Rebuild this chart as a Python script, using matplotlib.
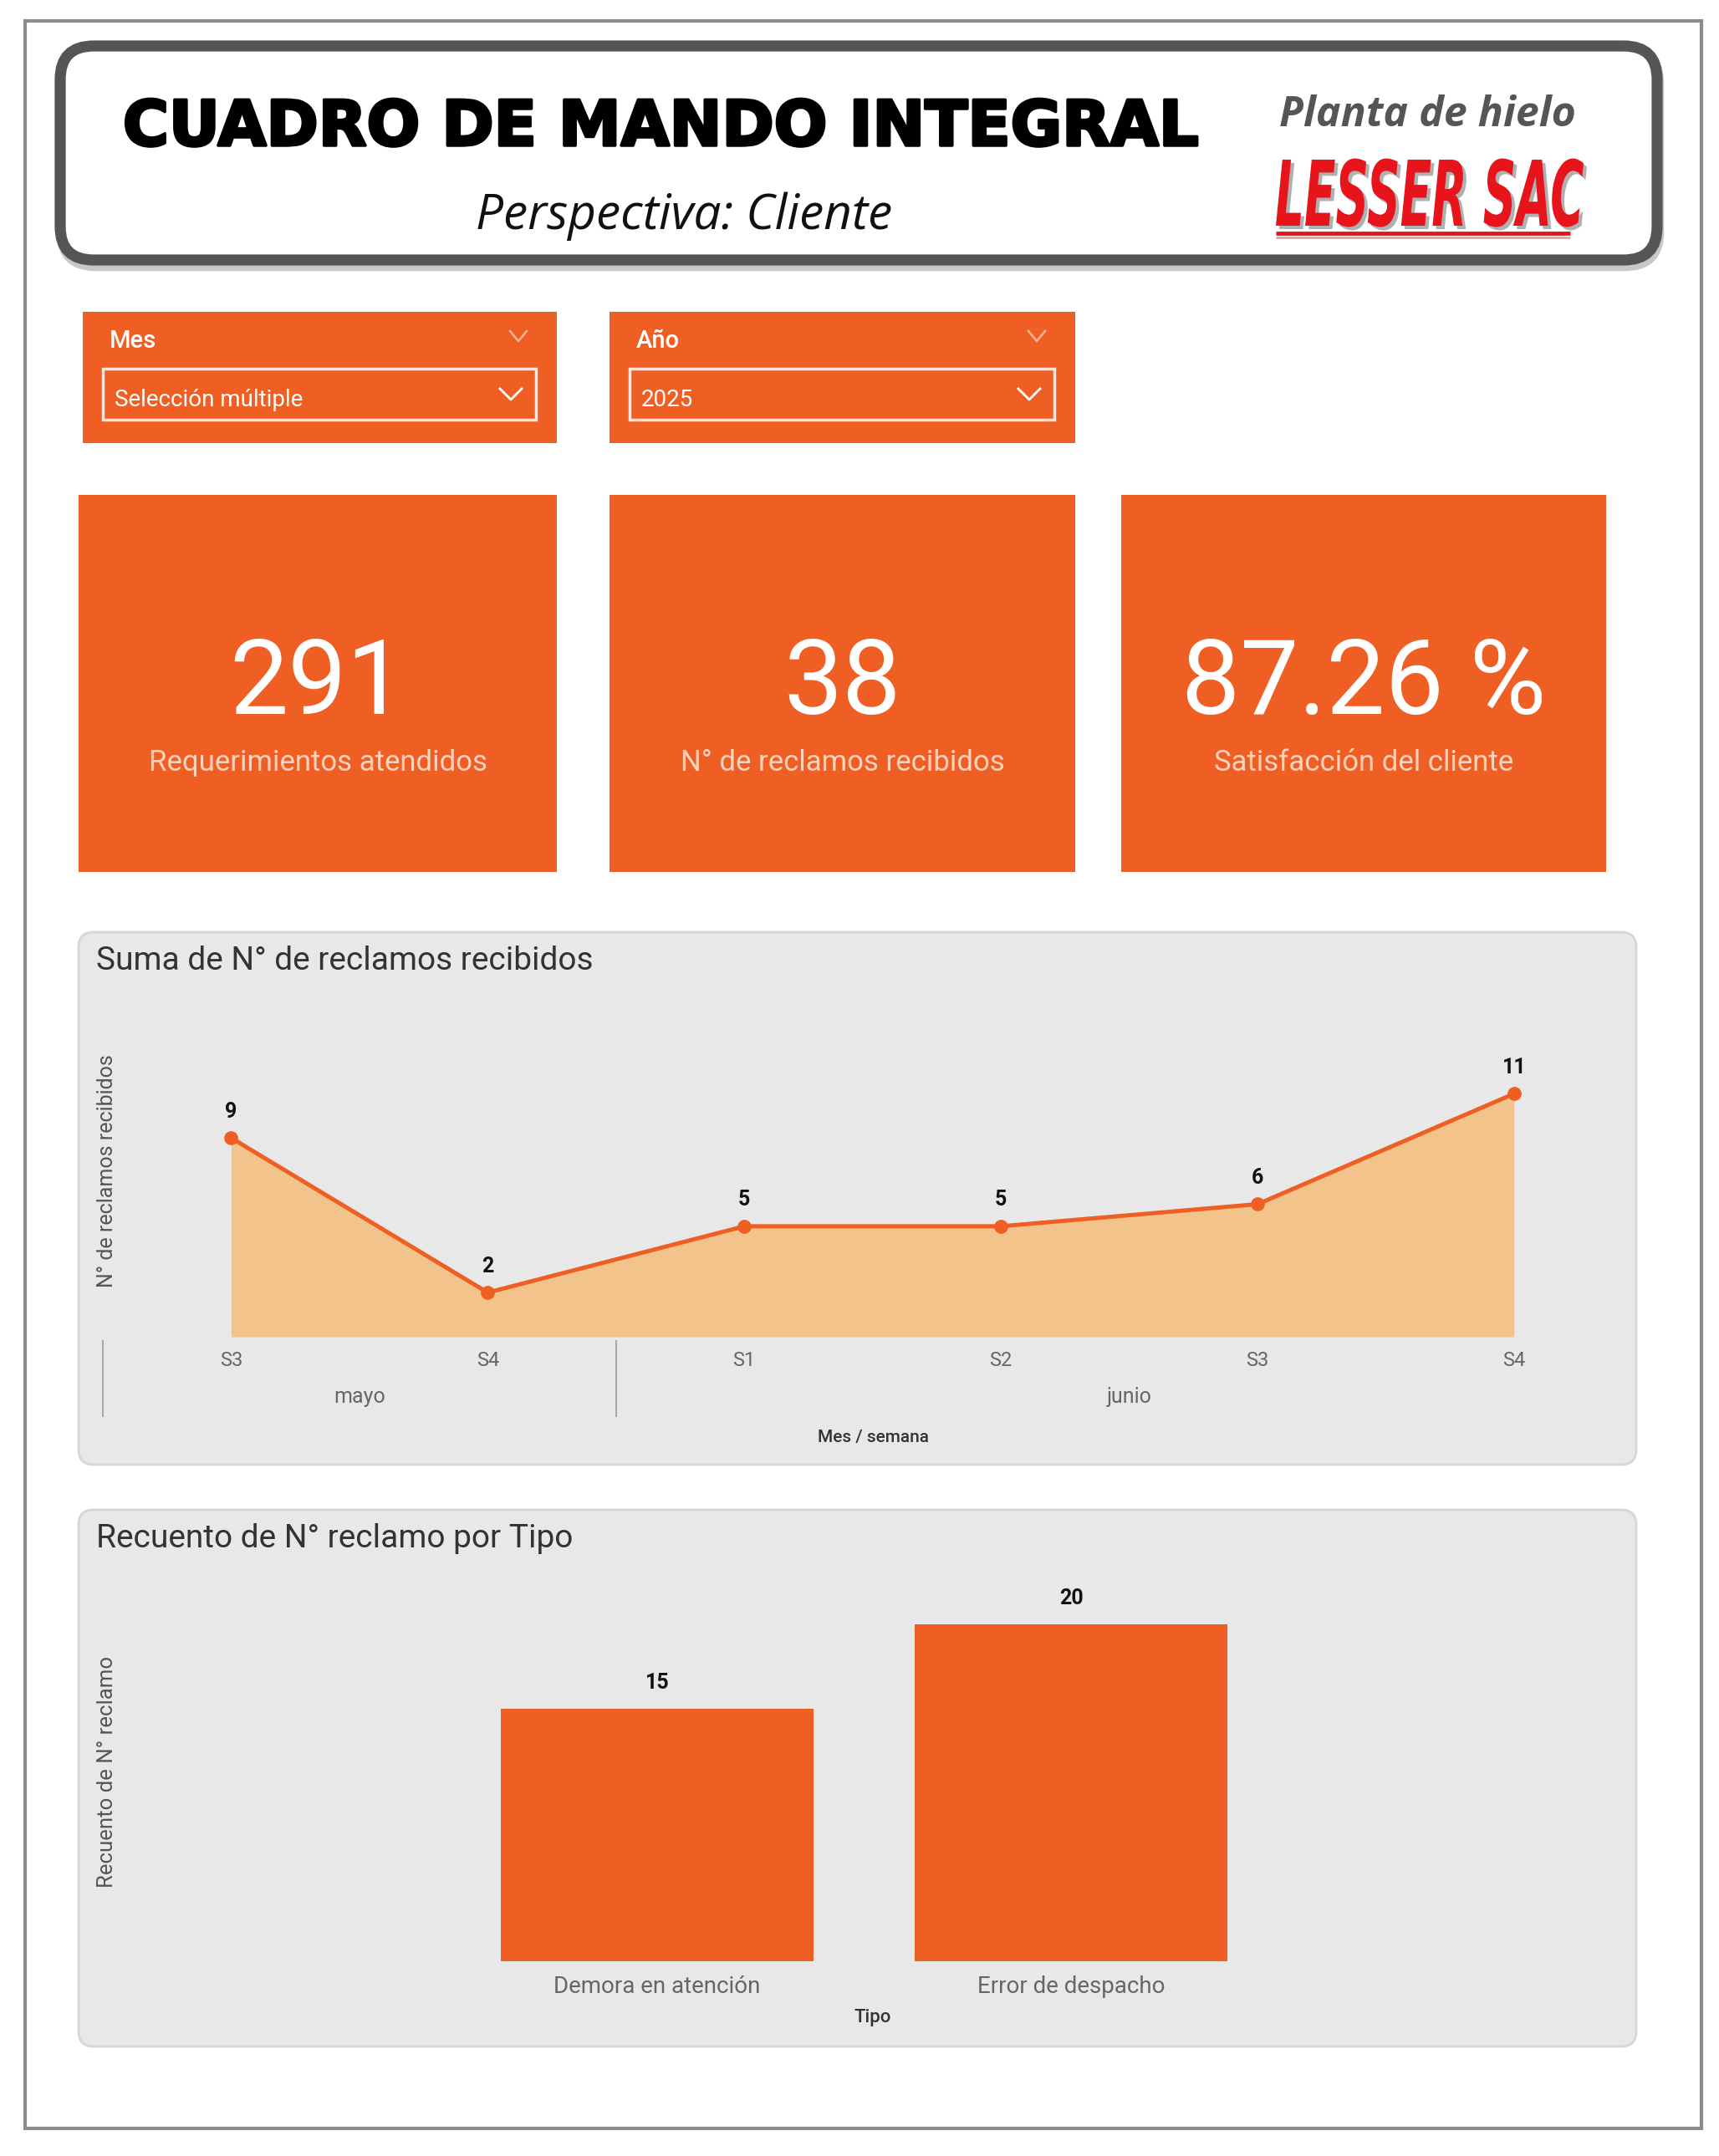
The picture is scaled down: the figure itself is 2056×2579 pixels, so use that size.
import numpy as np
import matplotlib
matplotlib.use("Agg")
import matplotlib.pyplot as plt
import matplotlib.patheffects as pe
from matplotlib.patches import FancyBboxPatch, Rectangle, PathPatch
from matplotlib.textpath import TextPath
from matplotlib.font_manager import FontProperties
from matplotlib.transforms import Affine2D, blended_transform_factory

W, H = 2056, 2579

# datos del tablero
slicer_titles = ["Mes", "Año"]
slicer_values = ["Selección múltiple", "2025"]
kpi_values = ["291", "38", "87.26 %"]
kpi_labels = ["Requerimientos atendidos", "N° de reclamos recibidos",
              "Satisfacción del cliente"]
semanas = ["S3", "S4", "S1", "S2", "S3", "S4"]
meses = ["mayo", "junio"]
semanas_por_mes = [2, 4]
reclamos = [9, 2, 5, 5, 6, 11]
tipos = ["Demora en atención", "Error de despacho"]
recuento = [15, 20]

ORANGE = "#EF5F24"
FILL = "#F2C48B"
PANEL = "#E8E8E8"
FONT = "Roboto"


def frac(x0, y0, x1, y1):
    # pixel box (y down) -> figure fraction
    return [x0 / W, 1 - y1 / H, (x1 - x0) / W, (y1 - y0) / H]


fig = plt.figure(figsize=(W / 100, H / 100), dpi=100)
bg = fig.add_axes([0, 0, 1, 1])
bg.set_xlim(0, W)
bg.set_ylim(H, 0)
bg.axis("off")

# marco exterior
bg.add_patch(Rectangle((30, 25), 2005, 2521, fill=False, ec="#8C8C8C", lw=3))

# cabecera
bg.add_patch(FancyBboxPatch((74, 60), 1910, 258, boxstyle="round,pad=0,rounding_size=40",
                            fc="none", ec="#C8C8C8", lw=9))
bg.add_patch(FancyBboxPatch((72, 55), 1910, 256, boxstyle="round,pad=0,rounding_size=40",
                            fc="white", ec="#555558", lw=9.5))
bg.text(790, 174, "CUADRO DE MANDO INTEGRAL", ha="center", va="baseline",
        fontsize=54, fontweight="heavy", family="DejaVu Sans", color="black",
        path_effects=[pe.withStroke(linewidth=2.5, foreground="black")])
bg.text(818, 274, "Perspectiva: Cliente", ha="center", va="baseline",
        fontsize=42, style="italic", family="Open Sans", color="#111111")
bg.text(1707, 151, "Planta de hielo", ha="center", va="baseline",
        fontsize=36, style="italic", fontweight="bold", family="Open Sans", color="#555555")

# logo LESSER SAC, comprimido horizontalmente
tp = TextPath((0, 0), "LESSER SAC", size=1,
              prop=FontProperties(family="DejaVu Sans", weight="bold", style="italic"))
ext = tp.get_extents()
for dx, col in [(4, "#B0B0B0"), (0, "#E8141C")]:
    tr = (Affine2D().translate(-ext.x0, 0)
          .scale(368 / ext.width, -82 / ext.height)
          .translate(1526 + dx, 270 + dx))
    bg.add_patch(PathPatch(tr.transform_path(tp), fc=col, ec="none"))
bg.plot([1526, 1878], [279, 279], color="#E8141C", lw=3.5, solid_capstyle="butt")
bg.plot([1526, 1878], [284, 284], color="#E9A0A0", lw=2, solid_capstyle="butt")

# segmentadores
for i, (t, v) in enumerate(zip(slicer_titles, slicer_values)):
    x0 = [99, 729][i]
    w = [567, 557][i]
    bg.add_patch(Rectangle((x0, 373), w, 157, fc=ORANGE, ec="none"))
    bg.text(x0 + 32, 416, t, ha="left", va="baseline", fontsize=21,
            family=FONT, fontweight="medium", color="white")
    cx = x0 + w - 46
    bg.plot([cx - 10, cx, cx + 10], [396, 408, 396], color="#F8B596", lw=1.8)
    bg.add_patch(Rectangle((x0 + 24, 441), w - 49, 61, fc="none", ec="#FBE3D6", lw=2.5))
    bg.text(x0 + 38, 486, v, ha="left", va="baseline", fontsize=20,
            family=FONT, color="white")
    cx = x0 + w - 55
    bg.plot([cx - 13, cx, cx + 13], [465, 478, 465], color="white", lw=2)

# tarjetas KPI
card_x = [(94, 666), (729, 1286), (1341, 1921)]
for (x0, x1), val, lab in zip(card_x, kpi_values, kpi_labels):
    bg.add_patch(Rectangle((x0, 592), x1 - x0, 451, fc=ORANGE, ec="none"))
    xc = (x0 + x1) / 2
    bg.text(xc, 854, val, ha="center", va="baseline", fontsize=90,
            family=FONT, color="white")
    bg.text(xc, 922, lab, ha="center", va="baseline", fontsize=25,
            family=FONT, color="#FAD2BF")

# paneles de graficos
for y0, y1 in [(1115, 1752), (1806, 2448)]:
    bg.add_patch(FancyBboxPatch((94, y0), 1863, y1 - y0,
                                boxstyle="round,pad=0,rounding_size=18",
                                fc=PANEL, ec="#D6D6D6", lw=2))

bg.text(115, 1160, "Suma de N° de reclamos recibidos", ha="left", va="baseline",
        fontsize=28, family=FONT, color="#333333")
bg.text(115, 1851, "Recuento de N° reclamo por Tipo", ha="left", va="baseline",
        fontsize=28, family=FONT, color="#333333")

# grafico de area / linea
ax = fig.add_axes(frac(123, 1229, 1903, 1599))
ax.set_facecolor("none")
x = np.arange(len(reclamos))
ax.fill_between(x, reclamos, 0, color=FILL, lw=0)
ax.plot(x, reclamos, color=ORANGE, lw=3.6, marker="o", ms=11, zorder=3)
for xi, yi in zip(x, reclamos):
    ax.annotate(str(yi), (xi, yi), xytext=(0, 14), textcoords="offset points",
                ha="center", va="bottom", fontsize=18, fontweight="bold",
                family=FONT, color="#111111")
ax.set_xlim(-0.5, 5.3)
ax.set_ylim(0, 14)
ax.set_xticks(x)
ax.set_xticklabels(semanas, fontsize=17, family=FONT, color="#666666")
ax.tick_params(axis="x", length=0, pad=12)
ax.set_yticks([])
for s in ax.spines.values():
    s.set_visible(False)

tr = blended_transform_factory(ax.transData, ax.transAxes)
start = 0
for m, n in zip(meses, semanas_por_mes):
    ax.plot([start - 0.5, start - 0.5], [-0.014, -0.257], transform=tr,
            color="#A8A8A8", lw=1.5, clip_on=False)
    ax.text(start + (n - 1) / 2, -0.195, m, transform=tr, ha="center", va="center",
            fontsize=18, family=FONT, color="#666666")
    start += n

bg.text(1044, 1719, "Mes / semana", ha="center", va="center", fontsize=15,
        family=FONT, fontweight="medium", color="#333333")
bg.text(128, 1401, "N° de reclamos recibidos", ha="center", va="center",
        rotation=90, fontsize=18, family=FONT, color="#555555")

# grafico de barras
bx = fig.add_axes(frac(192, 1903, 1875, 2346))
bx.set_facecolor("none")
xb = np.arange(len(tipos))
bars = bx.bar(xb, recuento, width=0.757, color=ORANGE)
for b, v in zip(bars, recuento):
    bx.annotate(str(v), (b.get_x() + b.get_width() / 2, v), xytext=(0, 14),
                textcoords="offset points", ha="center", va="bottom",
                fontsize=18, fontweight="bold", family=FONT, color="#111111")
bx.set_xlim(-1.2, 2.2)
bx.set_ylim(0, 22)
bx.set_xticks(xb)
bx.set_xticklabels(tipos, fontsize=20, family=FONT, color="#666666")
bx.tick_params(axis="x", length=0, pad=12)
bx.set_yticks([])
for s in bx.spines.values():
    s.set_visible(False)

bg.text(1044, 2413, "Tipo", ha="center", va="center", fontsize=16,
        family=FONT, fontweight="medium", color="#333333")
bg.text(128, 2119, "Recuento de N° reclamo", ha="center", va="center",
        rotation=90, fontsize=18.5, family=FONT, color="#555555")

fig.savefig("out.png", dpi=100, facecolor="white")
